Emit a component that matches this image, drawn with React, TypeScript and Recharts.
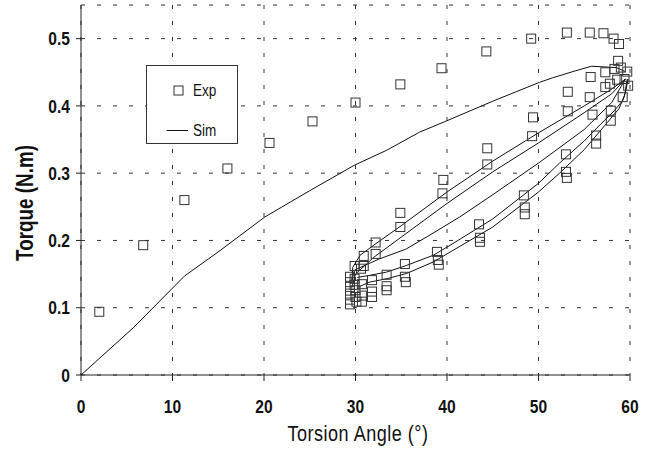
import { ComposedChart, Line, Scatter, XAxis, YAxis, CartesianGrid } from "recharts";

// experimental points [angle (deg), torque (N.m)]
const expPoints: [number, number][] = [
    [2.0, 0.094], [6.8, 0.193], [11.3, 0.26], [16.0, 0.307], [20.6, 0.345], [25.3, 0.377],
    [30.0, 0.405], [34.9, 0.432], [39.4, 0.456], [44.3, 0.481], [49.2, 0.5], [53.1, 0.509],
    [55.6, 0.509], [57.1, 0.508], [58.2, 0.5], [58.8, 0.492],
    [58.7, 0.467], [58.3, 0.455], [59.0, 0.457], [59.7, 0.451], [57.3, 0.45], [55.7, 0.443],
    [53.2, 0.421], [55.6, 0.413], [57.3, 0.428], [57.8, 0.433], [58.6, 0.439], [59.4, 0.44],
    [59.8, 0.43], [59.2, 0.413], [55.9, 0.387], [57.9, 0.393], [57.9, 0.378], [56.3, 0.356],
    [56.3, 0.344], [53.2, 0.392], [49.4, 0.383], [49.3, 0.355], [53.0, 0.328], [53.0, 0.302],
    [53.1, 0.293], [44.4, 0.337], [44.4, 0.313], [39.6, 0.29], [39.5, 0.27], [48.4, 0.267],
    [48.5, 0.249], [48.5, 0.239], [43.5, 0.224], [43.6, 0.204], [43.6, 0.198], [38.9, 0.183],
    [39.0, 0.171], [39.1, 0.164], [34.9, 0.241], [34.9, 0.22], [32.2, 0.197], [32.2, 0.18],
    [30.9, 0.177], [30.9, 0.162], [29.9, 0.162], [35.4, 0.165], [35.4, 0.146], [35.5, 0.138],
    [33.4, 0.149], [33.4, 0.132], [33.4, 0.126], [31.8, 0.141], [31.8, 0.124], [31.8, 0.116],
    [30.7, 0.135], [30.7, 0.118], [30.7, 0.109], [29.4, 0.146], [29.4, 0.138], [29.4, 0.131],
    [29.4, 0.121], [29.4, 0.112], [29.4, 0.105], [29.9, 0.143], [29.9, 0.134], [30.0, 0.126],
    [30.0, 0.116], [30.1, 0.109], [30.6, 0.158]
];

// simulation: first loading, then the hysteresis branches between 30 and 60 deg
const simLoading: [number, number][] = [
    [0, 0], [5.7, 0.07], [11.3, 0.147], [15.2, 0.185], [20.1, 0.235], [25, 0.274], [29.9, 0.312],
    [33.4, 0.334], [37, 0.361], [40, 0.378], [45, 0.407], [50.1, 0.435], [51.6, 0.442],
    [54, 0.452], [55.8, 0.459], [58.5, 0.457], [59.5, 0.451]
];
const simUnload1: [number, number][] = [
    [59.8, 0.44], [59.5, 0.42], [59.2, 0.408], [58.3, 0.393], [56.8, 0.373], [55, 0.348],
    [52.3, 0.315], [50, 0.285], [45, 0.232], [40, 0.19], [38.5, 0.178], [35.6, 0.163],
    [33.4, 0.153], [31.5, 0.148], [30.2, 0.145]
];
const simUnload2: [number, number][] = [
    [59.7, 0.44], [59.4, 0.415], [58.8, 0.396], [57.5, 0.375], [55, 0.335], [52.3, 0.3],
    [50, 0.272], [45, 0.22], [40, 0.18], [38.5, 0.168], [35.6, 0.151], [33.4, 0.143],
    [31.5, 0.138], [30.2, 0.13]
];
const simReload1: [number, number][] = [
    [29.6, 0.14], [29.7, 0.16], [30.5, 0.178], [32, 0.193], [35, 0.222], [40, 0.272],
    [45, 0.318], [50, 0.36], [55, 0.4], [58, 0.425], [59.5, 0.44]
];
const simReload2: [number, number][] = [
    [29.6, 0.13], [30, 0.15], [32, 0.175], [35, 0.205], [40, 0.255], [45, 0.302],
    [50, 0.345], [55, 0.39], [58, 0.418], [59.5, 0.44]
];
const simReload3: [number, number][] = [
    [29.6, 0.14], [29.9, 0.156], [32.5, 0.172], [35.5, 0.187], [38, 0.207], [41.4, 0.235],
    [45, 0.268], [50, 0.315], [55, 0.365], [58, 0.405], [59.5, 0.44]
];

const xTicks = [0, 10, 20, 30, 40, 50, 60];
const yTicks = [0, 0.1, 0.2, 0.3, 0.4, 0.5];

const simCurves = [simLoading, simUnload1, simUnload2, simReload1, simReload2, simReload3];
const toRows = (pts: [number, number][]) => pts.map(([x, y]) => ({ x, y }));

// no Arial Narrow here, so squeeze Liberation Sans the same way
const FONT = "'Liberation Sans', Arial, sans-serif";
const NARROW = 0.82;
const INK = "#222";

const NarrowText = ({ x, y, anchor, size, bold, children, dy, spacing }: any) => (
    <g transform={`translate(${x},${y}) scale(${NARROW},1)`}>
        <text
            x={0}
            y={0}
            dy={dy}
            textAnchor={anchor}
            fontFamily={FONT}
            fontSize={size}
            fontWeight={bold ? "bold" : "normal"}
            letterSpacing={spacing}
            fill="#111"
        >
            {children}
        </text>
    </g>
);

const XTick = (props: any) => (
    <NarrowText x={props.x} y={props.y} anchor="middle" size={19} bold dy="0.71em">
        {props.payload.value}
    </NarrowText>
);

const YTick = (props: any) => (
    <NarrowText x={props.x} y={props.y} anchor="end" size={19} bold dy="0.355em">
        {props.payload.value === 0 ? "0" : String(props.payload.value)}
    </NarrowText>
);

const Square = (props: any) => {
    const { cx, cy } = props;
    if (cx == null || cy == null) return null;
    return <rect x={cx - 4.5} y={cy - 4.5} width={9} height={9} fill="none" stroke="#333" strokeWidth={1} />;
};

export default function App() {
    return (
        <div style={{ position: "absolute", left: 0, top: 0, width: 653, height: 450, background: "#fff" }}>
            <ComposedChart width={653} height={450} margin={{ top: 5, right: 23, left: 0, bottom: 0 }}>
                <CartesianGrid stroke="#333" strokeDasharray="4 12" />
                <XAxis
                    type="number"
                    dataKey="x"
                    domain={[0, 60]}
                    ticks={xTicks}
                    height={75}
                    stroke={INK}
                    tickSize={6}
                    tickMargin={19}
                    tick={XTick}
                    label={{
                        content: () => (
                            <NarrowText x={358} y={441} anchor="middle" size={22} spacing={0.6}>
                                Torsion Angle (°)
                            </NarrowText>
                        )
                    }}
                />
                <XAxis xAxisId="top" orientation="top" type="number" domain={[0, 60]} height={0} tick={false} tickLine={false} stroke={INK} />
                <YAxis
                    type="number"
                    dataKey="y"
                    domain={[0, 0.55]}
                    ticks={yTicks}
                    width={81}
                    stroke={INK}
                    tickSize={5}
                    tickMargin={6}
                    tick={YTick}
                    label={{
                        content: () => (
                            <g transform="translate(33,203) rotate(-90)">
                                <NarrowText x={0} y={0} anchor="middle" size={23} bold>
                                    Torque (N.m)
                                </NarrowText>
                            </g>
                        )
                    }}
                />
                <YAxis yAxisId="right" orientation="right" domain={[0, 0.55]} width={0} tick={false} tickLine={false} stroke={INK} />
                {simCurves.map((c, i) => (
                    <Line
                        key={i}
                        data={toRows(c)}
                        dataKey="y"
                        type="linear"
                        stroke="#111"
                        strokeWidth={1}
                        dot={false}
                        activeDot={false}
                        isAnimationActive={false}
                    />
                ))}
                <Scatter data={toRows(expPoints)} dataKey="y" shape={Square} isAnimationActive={false} />
            </ComposedChart>
            <svg width={653} height={450} style={{ position: "absolute", left: 0, top: 0, pointerEvents: "none" }}>
                <rect x={146.5} y={65.5} width={91} height={78} fill="#fff" stroke="#333" strokeWidth={1} />
                <rect x={174} y={86} width={9} height={9} fill="none" stroke="#333" strokeWidth={1} />
                <NarrowText x={193} y={96} anchor="start" size={16.5}>Exp</NarrowText>
                <line x1={166.5} x2={188} y1={130.5} y2={130.5} stroke="#111" strokeWidth={1} />
                <NarrowText x={193} y={136} anchor="start" size={16.5}>Sim</NarrowText>
            </svg>
        </div>
    );
}
